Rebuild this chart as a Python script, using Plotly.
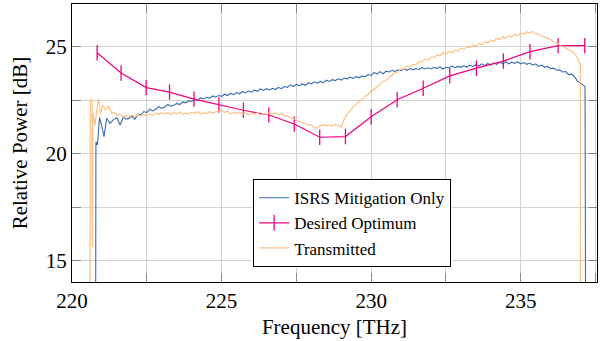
import plotly.graph_objects as go

# ---------------- data ----------------
freq_isrs = [220.79, 220.80, 220.85, 220.92, 221.00, 221.07, 221.16, 221.27, 221.38, 221.50, 221.61, 221.72,
             221.8, 221.9,
             222.0, 222.1, 222.2, 222.3, 222.4, 222.5, 222.6, 222.7, 222.8, 222.9,
             223.0, 223.1, 223.2, 223.3, 223.4, 223.5, 223.6, 223.7, 223.8, 223.9,
             224.0, 224.1, 224.2, 224.3, 224.4, 224.5, 224.6, 224.7, 224.8, 224.9,
             225.0, 225.1, 225.2, 225.3, 225.4, 225.5, 225.6, 225.7, 225.8, 225.9,
             226.0, 226.1, 226.2, 226.3, 226.4, 226.5, 226.6, 226.7, 226.8, 226.9,
             227.0, 227.1, 227.2, 227.3, 227.4, 227.5, 227.6, 227.7, 227.8, 227.9,
             228.0, 228.1, 228.2, 228.3, 228.4, 228.5, 228.6, 228.7, 228.8, 228.9,
             229.0, 229.1, 229.2, 229.3, 229.4, 229.5, 229.6, 229.7, 229.8, 229.9,
             230.0, 230.1, 230.2, 230.3, 230.4, 230.5, 230.6, 230.7, 230.8, 230.9,
             231.0, 231.1, 231.2, 231.3, 231.4, 231.5, 231.6, 231.7, 231.8, 231.9,
             232.0, 232.1, 232.2, 232.3, 232.4, 232.5, 232.6, 232.7, 232.8, 232.9,
             233.0, 233.1, 233.2, 233.3, 233.4, 233.5, 233.6, 233.7, 233.8, 233.9,
             234.0, 234.1, 234.2, 234.3, 234.4, 234.5, 234.6, 234.7, 234.8, 234.9,
             235.0, 235.1, 235.2, 235.3, 235.4, 235.5, 235.6, 235.7, 235.8, 235.9,
             236.0, 236.1, 236.2, 236.3, 236.4, 236.5, 236.6, 236.7, 236.8, 236.9,
             237.0, 237.1, 237.15, 237.17]
pow_isrs = [12.0, 20.56, 20.41, 21.70, 21.26, 20.80, 21.66, 21.42, 21.58, 21.68, 21.34, 21.73,
            21.62, 21.65,
            21.76, 21.61, 21.85, 21.82, 21.97, 21.92, 22.08, 22.00, 22.08, 22.20,
            22.12, 22.18, 22.30, 22.22, 22.26, 22.35, 22.30, 22.42, 22.38, 22.48,
            22.44, 22.54, 22.50, 22.62, 22.56, 22.64, 22.60, 22.70, 22.64, 22.72,
            22.68, 22.78, 22.72, 22.82, 22.76, 22.86, 22.80, 22.90, 22.84, 22.94,
            22.88, 22.98, 22.92, 23.03, 22.96, 23.04, 22.98, 23.06, 23.00, 23.10,
            23.04, 23.14, 23.10, 23.22, 23.14, 23.24, 23.18, 23.26, 23.20, 23.32,
            23.26, 23.36, 23.30, 23.38, 23.32, 23.44, 23.38, 23.46, 23.42, 23.50,
            23.44, 23.54, 23.50, 23.58, 23.52, 23.60, 23.55, 23.64, 23.60, 23.70,
            23.66, 23.80, 23.72, 23.84, 23.74, 23.86, 23.82, 23.90, 23.84, 23.92,
            23.88, 23.96, 23.90, 23.98, 23.92, 23.98, 23.94, 24.02, 23.96, 24.02,
            23.96, 24.04, 23.98, 24.06, 23.96, 24.04, 24.00, 24.10, 24.02, 24.08,
            24.04, 24.12, 24.04, 24.14, 24.08, 24.16, 24.10, 24.20, 24.12, 24.22,
            24.14, 24.24, 24.18, 24.28, 24.20, 24.30, 24.20, 24.28, 24.22, 24.30,
            24.20, 24.26, 24.18, 24.24, 24.14, 24.20, 24.08, 24.14, 24.04, 24.08,
            23.98, 24.00, 23.90, 23.92, 23.82, 23.84, 23.70, 23.72, 23.60, 23.38,
            23.30, 23.18, 23.14, 12.0]

freq_tx = [220.60, 220.61, 220.67, 220.68, 220.70, 220.77, 220.83, 220.89, 220.96, 221.03, 221.11, 221.22, 221.33, 221.40,
           221.5, 221.6, 221.7, 221.8, 221.9,
           222.0, 222.1, 222.2, 222.3, 222.4, 222.5, 222.6, 222.7, 222.8, 222.9,
           223.0, 223.1, 223.2, 223.3, 223.4, 223.5, 223.6, 223.7, 223.8, 223.9,
           224.0, 224.1, 224.2, 224.3, 224.4, 224.5, 224.6, 224.7, 224.8, 224.9,
           225.0, 225.1, 225.2, 225.3, 225.4, 225.5, 225.6, 225.7, 225.8, 225.9,
           226.0, 226.1, 226.2, 226.3, 226.4, 226.5, 226.6, 226.7, 226.8, 226.9,
           227.0, 227.1, 227.2, 227.3, 227.4, 227.5, 227.6, 227.7, 227.8, 227.9,
           228.0, 228.1, 228.2, 228.3, 228.4, 228.5, 228.6, 228.7, 228.8, 228.9,
           229.0, 229.1, 229.2, 229.3, 229.4, 229.5, 229.6, 229.7, 229.8, 229.9,
           230.0, 230.1, 230.2, 230.3, 230.4, 230.5, 230.6, 230.7, 230.8, 230.9,
           231.0, 231.1, 231.2, 231.3, 231.4, 231.5, 231.6, 231.7, 231.8, 231.9,
           232.0, 232.1, 232.2, 232.3, 232.4, 232.5, 232.6, 232.7, 232.8, 232.9,
           233.0, 233.1, 233.2, 233.3, 233.4, 233.5, 233.6, 233.7, 233.8, 233.9,
           234.0, 234.1, 234.2, 234.3, 234.4, 234.5, 234.6, 234.7, 234.8, 234.9,
           235.0, 235.1, 235.2, 235.3, 235.4, 235.5, 235.6, 235.7, 235.8, 235.9,
           236.0, 236.1, 236.2, 236.3, 236.4, 236.5, 236.6, 236.7, 236.8, 236.9,
           236.95, 236.99, 237.0]
pow_tx = [12.0, 22.56, 22.50, 15.64, 21.90, 21.34, 22.05, 22.56, 21.89, 22.28, 22.05, 22.23, 21.89, 21.95,
          21.80, 21.85, 21.70, 21.78, 21.72,
          21.80, 21.74, 21.82, 21.76, 21.84, 21.78, 21.88, 21.80, 21.90, 21.84,
          21.92, 21.86, 21.92, 21.84, 21.92, 21.86, 21.94, 21.84, 21.90, 21.86,
          21.94, 21.88, 21.96, 21.86, 21.92, 21.88, 21.96, 21.90, 21.96, 21.98,
          22.05, 21.92, 22.00, 21.86, 21.94, 21.88, 21.96, 21.84, 21.92, 21.82,
          21.90, 21.84, 21.92, 21.80, 21.88, 21.84, 21.92, 21.86, 21.90, 21.82,
          21.88, 21.78, 21.76, 21.68, 21.66, 21.56, 21.52, 21.44, 21.42, 21.32,
          21.36, 21.20, 21.22, 21.30, 21.36, 21.30, 21.34, 21.30, 21.38, 21.32,
          21.24, 21.62, 21.85, 22.00, 22.20, 22.30, 22.46, 22.52, 22.70, 22.78,
          22.95, 23.00, 23.14, 23.22, 23.38, 23.42, 23.60, 23.66, 23.80, 23.82,
          23.98, 23.96, 24.10, 24.06, 24.18, 24.16, 24.30, 24.28, 24.42, 24.38,
          24.52, 24.50, 24.62, 24.58, 24.72, 24.66, 24.78, 24.72, 24.84, 24.80,
          24.94, 24.88, 25.00, 24.96, 25.08, 25.02, 25.16, 25.10, 25.24, 25.18,
          25.32, 25.26, 25.40, 25.34, 25.48, 25.40, 25.52, 25.46, 25.58, 25.52,
          25.64, 25.58, 25.70, 25.64, 25.72, 25.60, 25.58, 25.48, 25.46, 25.38,
          25.34, 25.22, 25.20, 25.08, 25.02, 24.94, 24.86, 24.80, 24.68, 24.48,
          24.30, 24.20, 12.0]

freq_opt = [220.84, 221.64, 222.48, 223.26, 224.08, 224.91, 225.73, 226.58, 227.43, 228.28,
            229.14, 230.00, 230.87, 231.74, 232.63, 233.52, 234.42, 235.31, 236.25, 237.14]
pow_opt = [24.72, 23.77, 23.09, 22.88, 22.55, 22.28, 22.03, 21.81, 21.39, 20.77,
           20.80, 21.73, 22.52, 23.06, 23.64, 24.00, 24.33, 24.77, 25.05, 25.05]

names = ["ISRS Mitigation Only", "Desired Optimum", "Transmitted"]
x_ticks = [220, 225, 230, 235]
y_ticks = [15, 20, 25]

# ---------------- figure ----------------
FONT = "Times New Roman, Liberation Serif, DejaVu Serif, serif"
fig = go.Figure()
fig.add_trace(go.Scatter(x=freq_isrs, y=pow_isrs, mode="lines", name=names[0],
                         line=dict(color="#386CB0", width=1.1)))
fig.add_trace(go.Scatter(x=freq_opt, y=pow_opt, mode="lines+markers", name=names[1],
                         line=dict(color="#F0027F", width=1.2),
                         marker=dict(symbol="line-ns", size=11,
                                     line=dict(color="#F0027F", width=1.3))))
fig.add_trace(go.Scatter(x=freq_tx, y=pow_tx, mode="lines", name=names[2],
                         line=dict(color="#FDC086", width=1.2)))

axis_common = dict(
    showline=True, mirror="ticks", linecolor="black", linewidth=1,
    showgrid=True, gridcolor="#d4d4d4", gridwidth=1,
    ticks="inside", ticklen=9, tickcolor="#8a8a8a", tickwidth=1,
    zeroline=False,
    tickfont=dict(family=FONT, size=21, color="black"),
)
fig.update_xaxes(**axis_common, range=[220, 237.55], tickvals=x_ticks,
                 minor=dict(dtick=2.5, tick0=220, showgrid=True, gridcolor="#d4d4d4",
                            ticks="inside", ticklen=9, tickcolor="#8a8a8a"),
                 title=dict(text="Frequency [THz]", font=dict(family=FONT, size=21, color="black"),
                            standoff=7))
fig.update_yaxes(**axis_common, range=[14, 27], tickvals=y_ticks,
                 minor=dict(dtick=2.5, tick0=15, showgrid=True, gridcolor="#d4d4d4",
                            ticks="inside", ticklen=9, tickcolor="#8a8a8a"),
                 title=dict(text="Relative Power [dB]", font=dict(family=FONT, size=21, color="black"),
                            standoff=12))

fig.update_layout(
    width=608, height=341,
    margin=dict(l=72, r=11, t=4, b=59),
    paper_bgcolor="white", plot_bgcolor="white",
    showlegend=True,
    legend=dict(x=0.345, y=0.37, xanchor="left", yanchor="top",
                bgcolor="white", bordercolor="black", borderwidth=1,
                font=dict(family=FONT, size=17, color="black"),
                itemwidth=30, tracegroupgap=0),
    font=dict(family=FONT, color="black"),
)

fig.write_html("out.html")
